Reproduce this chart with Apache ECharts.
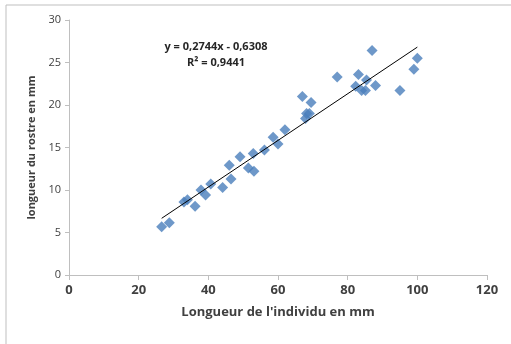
<!DOCTYPE html>
<html><head><meta charset="utf-8">
<script src="https://cdn.jsdelivr.net/npm/echarts@6/dist/echarts.min.js"></script>
<style>html,body{margin:0;padding:0;background:#fff}#c{width:511px;height:344px}</style>
</head><body><div id="c"></div>
<script>
const longueurIndividu = [26.6,28.8,33.0,34.0,36.2,37.9,39.2,40.7,44.1,46.0,46.5,49.1,51.5,53.1,52.9,56.1,58.6,60.0,62.0,67.0,67.9,68.2,69.0,69.5,77.0,82.3,83.1,84.0,85.1,85.4,87.0,88.0,95.0,99.0,100.0];
const longueurRostre  = [5.68,6.15,8.6,8.85,8.1,10.0,9.4,10.7,10.3,12.9,11.3,13.9,12.6,12.2,14.3,14.7,16.2,15.4,17.1,21.0,18.4,19.0,19.0,20.3,23.3,22.2,23.6,21.7,21.7,22.95,26.4,22.3,21.7,24.2,25.5];
const trendX = [26.6, 100];
const trendY = [6.67, 26.81];
const xTicks = [0,20,40,60,80,100,120];
const yTicks = [0,5,10,15,20,25,30];
const eqText = ['y = 0,2744x - 0,6308', 'R² = 0,9441'];

const pts = longueurIndividu.map((x,i)=>[x,longueurRostre[i]]);
const trend = trendX.map((x,i)=>[x,trendY[i]]);
const FONT = 'Open Sans';
const chart = echarts.init(document.getElementById('c'));
chart.setOption({
  animation:false,
  backgroundColor:'#fff',
  grid:{left:69,right:24,top:20,bottom:69},
  xAxis:{type:'value',min:xTicks[0],max:xTicks[xTicks.length-1],interval:20,
    splitLine:{show:false},
    axisLine:{lineStyle:{color:'#bfbfbf',width:1}},
    axisTick:{show:true,length:5,inside:false,lineStyle:{color:'#bfbfbf'}},
    axisLabel:{color:'#404040',fontWeight:'bold',fontSize:13,fontFamily:FONT,margin:9},
    name:"Longueur de l'individu en mm",nameLocation:'middle',nameGap:31,
    nameTextStyle:{color:'#404040',fontWeight:'bold',fontSize:13,fontFamily:FONT}},
  yAxis:{type:'value',min:yTicks[0],max:yTicks[yTicks.length-1],interval:5,
    splitLine:{show:false},
    axisLine:{show:true,lineStyle:{color:'#bfbfbf',width:1}},
    axisTick:{show:true,length:4,lineStyle:{color:'#bfbfbf'}},
    axisLabel:{color:'#404040',fontSize:11,fontFamily:FONT,margin:8},
    name:'longueur du rostre en mm',nameLocation:'middle',nameGap:30,
    nameTextStyle:{color:'#404040',fontWeight:'bold',fontSize:11,fontFamily:FONT}},
  graphic:[
    {type:'rect',shape:{x:6,y:5,width:530,height:360},style:{fill:'none',stroke:'#bfbfbf',lineWidth:1},silent:true,z:-1},
    {type:'text',style:{text:eqText[0],x:216,y:47,align:'center',verticalAlign:'middle',font:'bold 11px "'+FONT+'"',fill:'#262626'}},
    {type:'text',style:{text:eqText[1],x:216,y:63,align:'center',verticalAlign:'middle',font:'bold 11px "'+FONT+'"',fill:'#262626'}}
  ],
  series:[
    {type:'line',data:trend,symbol:'none',lineStyle:{color:'#000',width:1},z:3,silent:true},
    {type:'scatter',data:pts,symbol:'diamond',symbolSize:[11,11],itemStyle:{color:'#4a7ebb'},z:2}
  ]
});
</script></body></html>
